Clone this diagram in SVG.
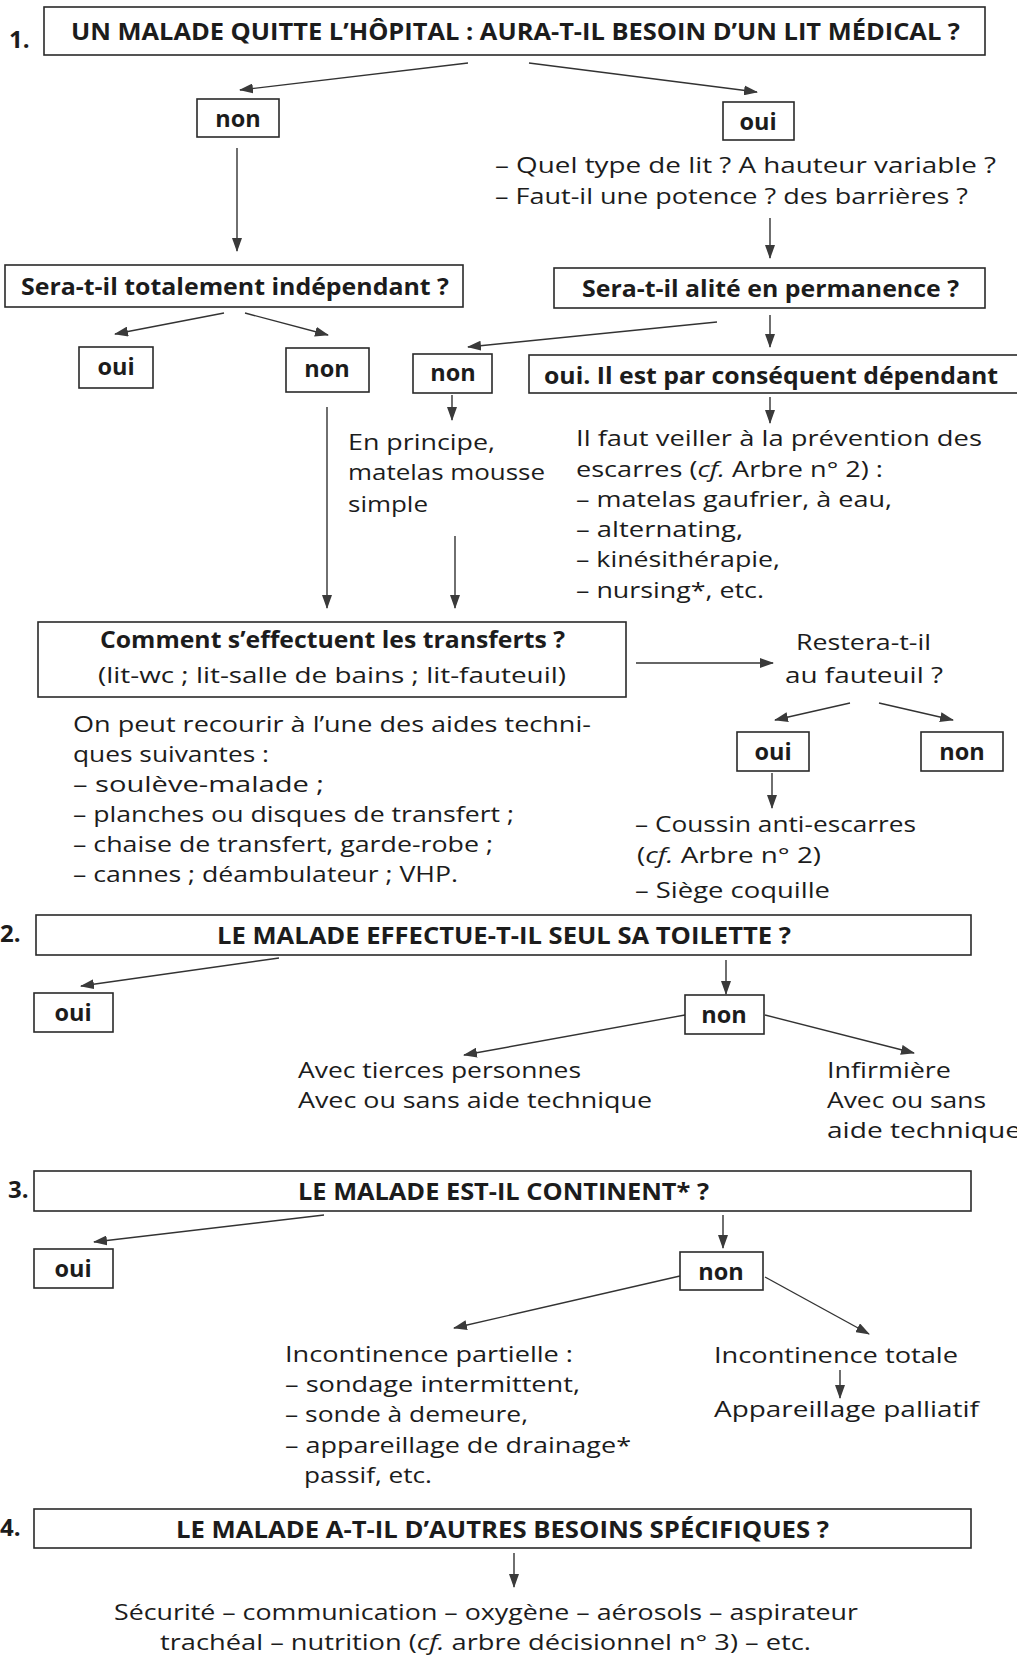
<svg xmlns="http://www.w3.org/2000/svg" width="1017" height="1664" viewBox="0 0 1017 1664">
<style>
.box{fill:#fff;stroke:#2a2a2a;stroke-width:1.6}
.t{font-family:"Open Sans","Liberation Sans",sans-serif;font-size:21.5px;fill:#1c1c1c}
.b{font-family:"Open Sans","Liberation Sans",sans-serif;font-weight:bold;font-size:22.5px;fill:#1c1c1c}
.l{font-family:"Open Sans","Liberation Sans",sans-serif;font-weight:bold;font-size:23.5px;fill:#1c1c1c}
.h{font-family:"Open Sans","Liberation Sans",sans-serif;font-weight:bold;font-size:24px;fill:#1c1c1c}
.m{text-anchor:middle}
.i{font-style:italic}
.c{stroke:#333;stroke-width:1.4;fill:none;marker-end:url(#ah)}
</style>
<defs>
<marker id="ah" viewBox="0 0 14 10" refX="13" refY="5" markerWidth="14" markerHeight="10" markerUnits="userSpaceOnUse" orient="auto">
<path d="M0,0 L14,5 L0,10 z" fill="#3a3a3a"/>
</marker>
</defs>
<rect width="1017" height="1664" fill="#fff"/>

<g id="connectors">
<line class="c" x1="468" y1="63" x2="240" y2="90"/>
<line class="c" x1="529" y1="63" x2="757" y2="92"/>
<line class="c" x1="237" y1="148" x2="237" y2="251"/>
<line class="c" x1="770" y1="218" x2="770" y2="258"/>
<line class="c" x1="224" y1="313" x2="115" y2="334"/>
<line class="c" x1="245" y1="313" x2="328" y2="335"/>
<line class="c" x1="717" y1="322" x2="468" y2="347"/>
<line class="c" x1="770" y1="315" x2="770" y2="347"/>
<line class="c" x1="452" y1="395" x2="452" y2="420"/>
<line class="c" x1="770" y1="397" x2="770" y2="423"/>
<line class="c" x1="327" y1="407" x2="327" y2="608"/>
<line class="c" x1="455" y1="536" x2="455" y2="608"/>
<line class="c" x1="636" y1="663" x2="773" y2="663"/>
<line class="c" x1="850" y1="703" x2="775" y2="720"/>
<line class="c" x1="879" y1="703" x2="953" y2="720"/>
<line class="c" x1="772" y1="773" x2="772" y2="808"/>
<line class="c" x1="279" y1="958" x2="81" y2="986"/>
<line class="c" x1="726" y1="960" x2="726" y2="994"/>
<line class="c" x1="685" y1="1015" x2="464" y2="1055"/>
<line class="c" x1="765" y1="1015" x2="914" y2="1053"/>
<line class="c" x1="324" y1="1215" x2="94" y2="1242"/>
<line class="c" x1="723" y1="1215" x2="723" y2="1248"/>
<line class="c" x1="680" y1="1276" x2="454" y2="1328"/>
<line class="c" x1="765" y1="1277" x2="869" y2="1334"/>
<line class="c" x1="840" y1="1370" x2="840" y2="1398"/>
<line class="c" x1="514" y1="1553" x2="514" y2="1587"/>
</g>

<g id="q1">
<text class="h" x="9" y="48">1.</text>
<rect class="box" x="44" y="7" width="941" height="48"/>
<text class="h" x="71" y="40" textLength="889" lengthAdjust="spacingAndGlyphs">UN MALADE QUITTE L’HÔPITAL : AURA-T-IL BESOIN D’UN LIT MÉDICAL ?</text>
</g>
<g id="non1"><rect class="box" x="197" y="99" width="82" height="38"/><text class="l m" x="238" y="127">non</text></g>
<g id="oui1"><rect class="box" x="723" y="102" width="71" height="38"/><text class="l m" x="758" y="130">oui</text></g>
<g id="typelit">
<text class="t" x="495" y="173" textLength="501" lengthAdjust="spacingAndGlyphs">– Quel type de lit ? A hauteur variable ?</text>
<text class="t" x="495" y="204" textLength="473" lengthAdjust="spacingAndGlyphs">– Faut-il une potence ? des barrières ?</text>
</g>
<g id="independant"><rect class="box" x="5" y="265" width="458" height="42"/><text class="b" x="21" y="295" textLength="428" lengthAdjust="spacingAndGlyphs">Sera-t-il totalement indépendant ?</text></g>
<g id="alite"><rect class="box" x="554" y="268" width="431" height="40"/><text class="b" x="582" y="297" textLength="377" lengthAdjust="spacingAndGlyphs">Sera-t-il alité en permanence ?</text></g>
<g id="oui2"><rect class="box" x="79" y="347" width="74" height="41"/><text class="l m" x="116" y="375">oui</text></g>
<g id="non2"><rect class="box" x="286" y="348" width="83" height="44"/><text class="l m" x="327" y="377">non</text></g>
<g id="non3"><rect class="box" x="413" y="354" width="79" height="39"/><text class="l m" x="453" y="381">non</text></g>
<g id="dependant"><rect class="box" x="529" y="355" width="495" height="38"/><text class="b" x="544" y="384" textLength="454" lengthAdjust="spacingAndGlyphs">oui. Il est par conséquent dépendant</text></g>
<g id="principe">
<text class="t" x="348" y="450" textLength="147" lengthAdjust="spacingAndGlyphs">En principe,</text>
<text class="t" x="348" y="480" textLength="197" lengthAdjust="spacingAndGlyphs">matelas mousse</text>
<text class="t" x="348" y="512" textLength="80" lengthAdjust="spacingAndGlyphs">simple</text>
</g>
<g id="prevention">
<text class="t" x="576" y="446" textLength="406" lengthAdjust="spacingAndGlyphs">Il faut veiller à la prévention des</text>
<text class="t" x="576" y="477" textLength="307" lengthAdjust="spacingAndGlyphs">escarres (<tspan class="i">cf.</tspan> Arbre n° 2) :</text>
<text class="t" x="576" y="507" textLength="316" lengthAdjust="spacingAndGlyphs">– matelas gaufrier, à eau,</text>
<text class="t" x="576" y="537" textLength="167" lengthAdjust="spacingAndGlyphs">– alternating,</text>
<text class="t" x="576" y="567" textLength="204" lengthAdjust="spacingAndGlyphs">– kinésithérapie,</text>
<text class="t" x="576" y="598" textLength="188" lengthAdjust="spacingAndGlyphs">– nursing*, etc.</text>
</g>
<g id="transferts">
<rect class="box" x="38" y="622" width="588" height="75"/>
<text class="b" x="100" y="648" textLength="465" lengthAdjust="spacingAndGlyphs">Comment s’effectuent les transferts ?</text>
<text class="t" x="98" y="683" textLength="468" lengthAdjust="spacingAndGlyphs">(lit-wc ;  lit-salle de bains ; lit-fauteuil)</text>
</g>
<g id="restera">
<text class="t" x="796" y="650" textLength="135" lengthAdjust="spacingAndGlyphs">Restera-t-il</text>
<text class="t" x="785" y="683" textLength="158" lengthAdjust="spacingAndGlyphs">au fauteuil ?</text>
</g>
<g id="oui4"><rect class="box" x="737" y="732" width="72" height="39"/><text class="l m" x="773" y="760">oui</text></g>
<g id="non4"><rect class="box" x="921" y="732" width="82" height="39"/><text class="l m" x="962" y="760">non</text></g>
<g id="coussin">
<text class="t" x="635" y="832" textLength="281" lengthAdjust="spacingAndGlyphs">– Coussin anti-escarres</text>
<text class="t" x="637" y="863" textLength="184" lengthAdjust="spacingAndGlyphs">(<tspan class="i">cf.</tspan> Arbre n° 2)</text>
<text class="t" x="635" y="898" textLength="195" lengthAdjust="spacingAndGlyphs">– Siège coquille</text>
</g>
<g id="aides">
<text class="t" x="73" y="732" textLength="518" lengthAdjust="spacingAndGlyphs">On peut recourir à l’une des aides techni-</text>
<text class="t" x="73" y="762" textLength="196" lengthAdjust="spacingAndGlyphs">ques suivantes :</text>
<text class="t" x="73" y="792" textLength="251" lengthAdjust="spacingAndGlyphs">– soulève-malade ;</text>
<text class="t" x="73" y="822" textLength="441" lengthAdjust="spacingAndGlyphs">– planches ou disques de transfert ;</text>
<text class="t" x="73" y="852" textLength="420" lengthAdjust="spacingAndGlyphs">– chaise de transfert, garde-robe ;</text>
<text class="t" x="73" y="882" textLength="385" lengthAdjust="spacingAndGlyphs">– cannes ; déambulateur ; VHP.</text>
</g>

<g id="q2">
<text class="h" x="0" y="942">2.</text>
<rect class="box" x="36" y="915" width="935" height="40"/>
<text class="h" x="217" y="944" textLength="574" lengthAdjust="spacingAndGlyphs">LE MALADE EFFECTUE-T-IL SEUL SA TOILETTE ?</text>
</g>
<g id="oui5"><rect class="box" x="34" y="993" width="79" height="39"/><text class="l m" x="73" y="1021">oui</text></g>
<g id="non5"><rect class="box" x="685" y="995" width="79" height="39"/><text class="l m" x="724" y="1023">non</text></g>
<g id="tierces">
<text class="t" x="298" y="1078" textLength="283" lengthAdjust="spacingAndGlyphs">Avec tierces personnes</text>
<text class="t" x="298" y="1108" textLength="354" lengthAdjust="spacingAndGlyphs">Avec ou sans aide technique</text>
</g>
<g id="infirmiere">
<text class="t" x="827" y="1078" textLength="124" lengthAdjust="spacingAndGlyphs">Infirmière</text>
<text class="t" x="827" y="1108" textLength="159" lengthAdjust="spacingAndGlyphs">Avec ou sans</text>
<text class="t" x="827" y="1138" textLength="194" lengthAdjust="spacingAndGlyphs">aide technique</text>
</g>

<g id="q3">
<text class="h" x="8" y="1198">3.</text>
<rect class="box" x="34" y="1171" width="937" height="40"/>
<text class="h" x="298" y="1200" textLength="411" lengthAdjust="spacingAndGlyphs">LE MALADE EST-IL CONTINENT* ?</text>
</g>
<g id="oui6"><rect class="box" x="34" y="1249" width="79" height="39"/><text class="l m" x="73" y="1277">oui</text></g>
<g id="non6"><rect class="box" x="680" y="1252" width="83" height="38"/><text class="l m" x="721" y="1280">non</text></g>
<g id="partielle">
<text class="t" x="285" y="1362" textLength="288" lengthAdjust="spacingAndGlyphs">Incontinence partielle :</text>
<text class="t" x="285" y="1392" textLength="295" lengthAdjust="spacingAndGlyphs">– sondage intermittent,</text>
<text class="t" x="285" y="1422" textLength="243" lengthAdjust="spacingAndGlyphs">– sonde à demeure,</text>
<text class="t" x="285" y="1453" textLength="346" lengthAdjust="spacingAndGlyphs">– appareillage de drainage*</text>
<text class="t" x="304" y="1483" textLength="128" lengthAdjust="spacingAndGlyphs">passif, etc.</text>
</g>
<g id="totale">
<text class="t" x="714" y="1363" textLength="244" lengthAdjust="spacingAndGlyphs">Incontinence totale</text>
</g>
<g id="palliatif">
<text class="t" x="714" y="1417" textLength="265" lengthAdjust="spacingAndGlyphs">Appareillage palliatif</text>
</g>

<g id="q4">
<text class="h" x="0" y="1536">4.</text>
<rect class="box" x="34" y="1509" width="937" height="39"/>
<text class="h" x="176" y="1538" textLength="653" lengthAdjust="spacingAndGlyphs">LE MALADE A-T-IL D’AUTRES BESOINS SPÉCIFIQUES ?</text>
</g>
<g id="besoins">
<text class="t" x="114" y="1620" textLength="744" lengthAdjust="spacingAndGlyphs">Sécurité – communication – oxygène – aérosols – aspirateur</text>
<text class="t" x="160" y="1650" textLength="651" lengthAdjust="spacingAndGlyphs">trachéal – nutrition (<tspan class="i">cf.</tspan> arbre décisionnel n° 3) – etc.</text>
</g>
</svg>
